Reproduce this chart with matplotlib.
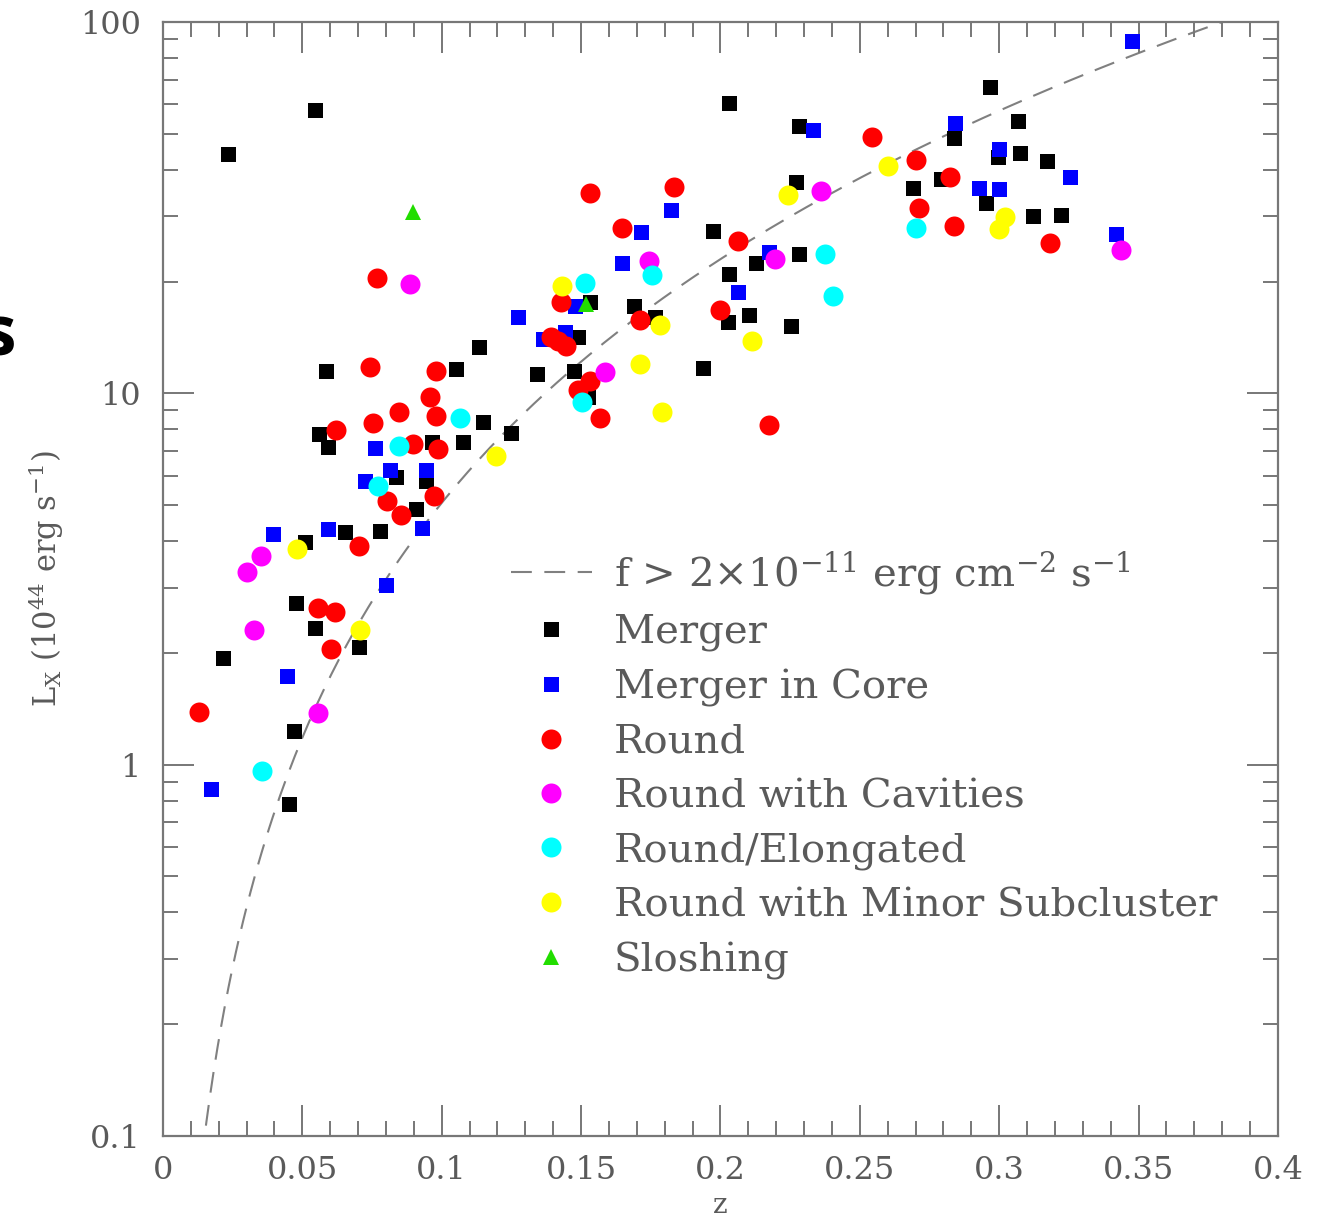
import numpy as np
import matplotlib
matplotlib.use("Agg")
import matplotlib.pyplot as plt
from matplotlib.lines import Line2D
from matplotlib.ticker import FixedLocator, NullFormatter, FuncFormatter

# cluster samples: redshift and L_X (1e44 erg/s)
merger_z = [0.0545, 0.0233, 0.2030, 0.2967, 0.2282, 0.2838, 0.2996, 0.2791, 0.2271, 0.2691,
            0.2952, 0.3067, 0.3074, 0.3171, 0.3121, 0.3222, 0.1973, 0.2030, 0.2127, 0.2282,
            0.2027, 0.2102, 0.2253, 0.1690, 0.1765, 0.1532, 0.1489, 0.1937, 0.1474, 0.1342,
            0.1051, 0.1134, 0.1148, 0.1076, 0.1248, 0.0585, 0.0560, 0.0592, 0.0965, 0.0836,
            0.0944, 0.0908, 0.0509, 0.0653, 0.0778, 0.0477, 0.0545, 0.0703, 0.0215, 0.0470,
            0.0452, 0.1525]
merger_L = [57.9, 44.1, 60.5, 66.8, 52.4, 48.7, 43.3, 37.7, 37.0, 35.7,
            32.5, 54.1, 44.4, 42.2, 30.0, 30.2, 27.3, 20.9, 22.5, 23.7,
            15.6, 16.3, 15.2, 17.2, 16.1, 17.6, 14.2, 11.7, 11.5, 11.3,
            11.6, 13.3, 8.35, 7.38, 7.8, 11.5, 7.75, 7.15, 7.38, 5.97,
            5.79, 4.87, 3.97, 4.22, 4.25, 2.73, 2.34, 2.07, 1.94, 1.23,
            0.785, 9.8]

core_z = [0.1822, 0.1715, 0.1647, 0.1478, 0.1274, 0.1363, 0.1442, 0.2332, 0.2841, 0.2999,
          0.2927, 0.2999, 0.2174, 0.2063, 0.3476, 0.3254, 0.3419, 0.0761, 0.0814, 0.0944,
          0.0725, 0.0929, 0.0395, 0.0592, 0.0800, 0.0445, 0.0172]
core_L = [31.1, 27.2, 22.4, 17.2, 16.1, 14.0, 14.6, 51.2, 53.4, 45.5,
          35.7, 35.5, 24.1, 18.7, 88.9, 38.2, 26.8, 7.11, 6.2, 6.2,
          5.79, 4.35, 4.17, 4.30, 3.04, 1.73, 0.86]

round_z = [0.0768, 0.1532, 0.1833, 0.1647, 0.2543, 0.2701, 0.2823, 0.2712, 0.2838, 0.2063,
           0.3182, 0.1428, 0.1711, 0.1998, 0.1392, 0.1417, 0.1446, 0.1532, 0.1489, 0.1568,
           0.2174, 0.0743, 0.0979, 0.0958, 0.0847, 0.0753, 0.0979, 0.0621, 0.0897, 0.0987,
           0.0804, 0.0854, 0.0972, 0.0703, 0.0556, 0.0617, 0.0603, 0.0129]
round_L = [20.4, 34.6, 35.9, 27.9, 49.0, 42.5, 38.2, 31.5, 28.2, 25.7,
           25.4, 17.6, 15.8, 16.8, 14.2, 13.8, 13.4, 10.8, 10.2, 8.6,
           8.2, 11.8, 11.5, 9.8, 8.9, 8.3, 8.7, 7.95, 7.29, 7.07,
           5.12, 4.69, 5.28, 3.89, 2.65, 2.57, 2.05, 1.39]

cav_z = [0.0886, 0.1743, 0.2361, 0.2196, 0.1586, 0.3437, 0.0352, 0.0301, 0.0326, 0.0556]
cav_L = [19.7, 22.7, 35.0, 23.0, 11.4, 24.4, 3.64, 3.31, 2.31, 1.38]

elong_z = [0.1754, 0.1514, 0.2701, 0.2375, 0.2404, 0.1503, 0.1065, 0.0847, 0.0771, 0.0355]
elong_L = [20.8, 19.8, 27.9, 23.8, 18.3, 9.5, 8.6, 7.2, 5.62, 0.96]

minor_z = [0.1431, 0.1783, 0.1711, 0.1790, 0.1195, 0.0481, 0.0707, 0.2601, 0.2242, 0.3021,
           0.2999, 0.2113]
minor_L = [19.4, 15.3, 12.0, 8.9, 6.8, 3.82, 2.30, 40.9, 34.2, 29.8,
           27.7, 13.8]

slosh_z = [0.0897, 0.1518]
slosh_L = [30.7, 17.4]

# flux limit curve, flat LCDM
H0 = 70.0
Om = 0.3
flux_lim = 2e-11
c_kms = 299792.458
mpc_cm = 3.0857e24


def lum_limit(z):
    zz = np.linspace(0, z, 400)
    dc = np.trapezoid(1.0 / np.sqrt(Om * (1 + zz) ** 3 + (1 - Om)), zz) * c_kms / H0
    dl = (1 + z) * dc * mpc_cm
    return 4 * np.pi * dl ** 2 * flux_lim / 1e44


plt.rcParams['font.family'] = 'DejaVu Serif'
plt.rcParams['mathtext.fontset'] = 'dejavuserif'
grey = '#5a5a5a'

fig = plt.figure(figsize=(13.26, 12.24), dpi=100)
ax = fig.add_axes([0.1229, 0.0719, 0.8409, 0.9101])

zc = np.linspace(0.005, 0.4, 300)
Lc = [lum_limit(z) for z in zc]
ax.plot(zc, Lc, color='#808080', lw=1.5, dashes=(10, 6), zorder=1)

groups = [
    (merger_z, merger_L, 's', 'black', 10.8),
    (core_z, core_L, 's', '#0000ff', 10.8),
    (round_z, round_L, 'o', '#ff0000', 14.4),
    (cav_z, cav_L, 'o', '#ff00ff', 14.4),
    (elong_z, elong_L, 'o', '#00ffff', 14.4),
    (minor_z, minor_L, 'o', '#ffff00', 14.4),
    (slosh_z, slosh_L, '^', '#22dd00', 12),
]
for zs, Ls, m, col, ms in groups:
    ax.plot(zs, Ls, ls='none', marker=m, color=col, ms=ms, mew=0, zorder=3)

ax.set_yscale('log')
ax.set_xlim(0, 0.4)
ax.set_ylim(0.1, 100)

ax.xaxis.set_major_locator(FixedLocator(np.arange(0, 0.41, 0.05)))
ax.xaxis.set_minor_locator(FixedLocator(np.arange(0, 0.401, 0.01)))
ax.xaxis.set_major_formatter(FuncFormatter(lambda v, p: '0' if abs(v) < 1e-9 else ('%g' % round(v, 2))))
ax.yaxis.set_major_locator(FixedLocator([0.1, 1, 10, 100]))
ax.yaxis.set_minor_locator(FixedLocator([k * 10.0 ** e for e in range(-1, 2) for k in range(2, 10)]))
ax.yaxis.set_major_formatter(FuncFormatter(lambda v, p: '%g' % v))
ax.yaxis.set_minor_formatter(NullFormatter())

ax.tick_params(which='both', direction='in', top=True, right=True, color='#777777', width=1.4,
               labelcolor=grey, labelsize=23)
ax.tick_params(axis='x', pad=14)
ax.tick_params(axis='y', pad=16)
ax.tick_params(which='major', length=22)
ax.tick_params(which='minor', length=11)
for s in ax.spines.values():
    s.set_color('#777777')
    s.set_linewidth(1.6)

ax.set_xlabel('z', fontsize=20, color=grey, labelpad=4)
ax.set_ylabel(r'L$_{\rm X}$ (10$^{44}$ erg s$^{-1}$)', fontsize=22, color=grey, labelpad=10)

labels = [r'f > 2$\times$10$^{-11}$ erg cm$^{-2}$ s$^{-1}$', 'Merger', 'Merger in Core', 'Round',
          'Round with Cavities', 'Round/Elongated', 'Round with Minor Subcluster', 'Sloshing']
handles = [Line2D([], [], color='#808080', lw=1.5, dashes=(10, 6))]
for zs, Ls, m, col, ms in groups:
    handles.append(Line2D([], [], ls='none', marker=m, color=col, ms=ms, mew=0))
leg = ax.legend(handles, labels, loc='upper left', bbox_to_anchor=(0.298, 0.541), frameon=False,
                fontsize=29, handlelength=1.99, handletextpad=0.55, labelspacing=0.43,
                borderaxespad=0)
for t in leg.get_texts():
    t.set_color(grey)

fig.text(16 / 1326, 1 - 338 / 1224, 's', fontsize=50, fontweight='bold', family='Open Sans',
         ha='right', va='center', color='black')

fig.savefig('out.png', dpi=100)
